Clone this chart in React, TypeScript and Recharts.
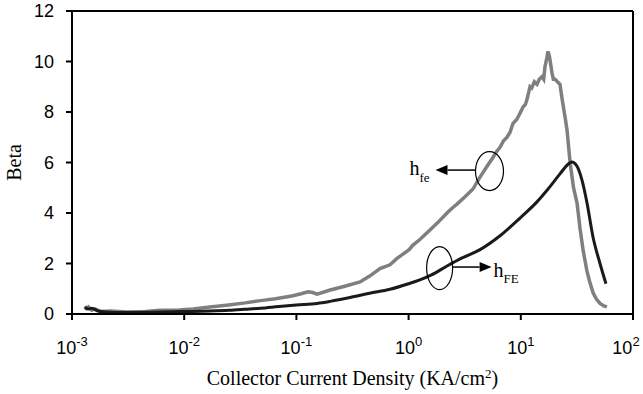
import {
  Label,
  Line,
  LineChart,
  ReferenceDot,
  ReferenceLine,
  XAxis,
  YAxis,
} from "recharts";

const SANS = "'Liberation Sans', Arial, sans-serif";
const SERIF = "'Liberation Serif', 'Times New Roman', serif";
const GRAY = "#7f7f7f";
const DARK = "#1a1a1a";

const X_TICKS = [0.001, 0.01, 0.1, 1, 10, 100];
const Y_TICKS = [0, 2, 4, 6, 8, 10, 12];

// small-signal gain h_fe (gray, noisy)
const HFE_X = [
  0.0013, 0.00135, 0.0014, 0.0015, 0.0016, 0.0018, 0.0022, 0.0031, 0.0045,
  0.0061, 0.009, 0.012, 0.017, 0.025, 0.035, 0.048, 0.065, 0.083, 0.093, 0.11,
  0.127, 0.14, 0.153, 0.2, 0.27, 0.369, 0.45, 0.556, 0.682, 0.789, 1.01, 1.094,
  1.26, 1.55, 1.8, 2.2, 2.45, 2.7, 3.2, 3.75, 4.3, 4.6, 5.0, 5.65, 6.0, 6.53,
  7.0, 7.54, 8.02, 8.52, 9.2, 9.84, 10.47, 11.0, 11.36, 12.08, 12.5, 13.2,
  13.94, 14.6, 15.45, 16.0, 16.43, 17.0, 17.47, 18.0, 18.97, 19.5, 20.18, 21.2,
  22.35, 23.0, 23.77, 24.8, 25.8, 27.5, 29.5, 31.7, 33.7, 36, 38.9, 41, 44.0,
  47, 50.8, 55, 58.6,
];
const HFE_Y = [
  0.3, 0.22, 0.28, 0.15, 0.2, 0.1, 0.12, 0.08, 0.1, 0.15, 0.16, 0.2, 0.28,
  0.36, 0.44, 0.53, 0.6, 0.68, 0.72, 0.8, 0.88, 0.85, 0.79, 0.95, 1.1, 1.27,
  1.5, 1.8, 1.95, 2.2, 2.55, 2.73, 2.95, 3.33, 3.6, 4.0, 4.2, 4.35, 4.65, 4.95,
  5.4, 5.6, 5.85, 6.2, 6.4, 6.6, 6.85, 7.0, 7.2, 7.55, 7.7, 7.95, 8.2, 8.3,
  8.5, 9.0, 8.95, 9.2, 9.1, 9.3, 9.4, 9.3, 9.8, 10.1, 10.4, 10.2, 9.55, 9.3,
  9.3, 9.2, 9.1, 8.7, 8.3, 7.8, 7.3, 6.0, 5.0, 4.4, 3.4, 2.5, 1.7, 1.3, 0.85,
  0.6, 0.42, 0.32, 0.28,
];

// DC gain h_FE (black, smooth)
const HFE_DC_X = [
  0.0013, 0.0014, 0.0015, 0.0017, 0.002, 0.003, 0.005, 0.008, 0.012, 0.017,
  0.025, 0.035, 0.048, 0.07, 0.1, 0.153, 0.2, 0.3, 0.45, 0.682, 1.0, 1.26, 1.6,
  2.2, 3.0, 4.33, 6.53, 9.84, 14, 17.5, 22.35, 26.4, 28.5, 31.7, 35.1, 38.9,
  44.0, 50.8, 57.4,
];
const HFE_DC_Y = [
  0.25, 0.2, 0.23, 0.12, 0.08, 0.06, 0.07, 0.09, 0.1, 0.12, 0.15, 0.19, 0.23,
  0.3, 0.36, 0.42, 0.5, 0.65, 0.82, 0.98, 1.2, 1.35, 1.55, 1.9, 2.22, 2.55,
  3.1, 3.8, 4.45, 4.95, 5.55, 5.93, 6.02, 5.85, 5.3, 4.4, 3.05, 2.0, 1.2,
];

// where the ellipse call-outs sit, in data units
const FE_MARK = { x: 5.26, y: 5.66 };
const FE_DC_MARK = { x: 1.89, y: 1.82 };

const hfe = HFE_X.map((x, i) => ({ x, y: HFE_Y[i] }));
const hfeDc = HFE_DC_X.map((x, i) => ({ x, y: HFE_DC_Y[i] }));

function DecadeTick({ x, y, payload }: any) {
  const exp = Math.round(Math.log10(payload.value));
  // keep the last label inside the picture, like the original does
  const tx = Math.min(x, 626);
  return (
    <text
      x={tx}
      y={y + 34}
      textAnchor="middle"
      fontFamily={SANS}
      fontSize={18}
      fill="#000"
    >
      10
      <tspan dy={-8} fontSize={13}>
        {exp}
      </tspan>
    </text>
  );
}

function XTitle({ viewBox }: any) {
  const cx = viewBox.x + viewBox.width / 2;
  return (
    <text
      x={cx}
      y={385}
      textAnchor="middle"
      fontFamily={SERIF}
      fontSize={20}
      fill="#000"
    >
      Collector Current Density (KA/cm
      <tspan dy={-7} fontSize={13}>
        2
      </tspan>
      <tspan dy={7}>)</tspan>
    </text>
  );
}

function YTitle({ viewBox }: any) {
  const cy = viewBox.y + viewBox.height / 2;
  return (
    <text
      x={21}
      y={cy}
      transform={`rotate(-90 21 ${cy})`}
      textAnchor="middle"
      fontFamily={SERIF}
      fontSize={20}
      fill="#000"
    >
      Beta
    </text>
  );
}

function FeCallout({ cx, cy }: any) {
  return (
    <g>
      <ellipse cx={cx} cy={cy} rx={14} ry={19.5} fill="none" stroke="#000" strokeWidth={1.2} />
      <line x1={cx - 14} y1={cy - 1} x2={cx - 42} y2={cy - 1} stroke="#000" strokeWidth={1.5} />
      <polygon
        points={`${cx - 54},${cy - 1} ${cx - 42},${cy - 6} ${cx - 42},${cy + 4}`}
        fill="#000"
      />
      <text x={cx - 80} y={cy + 4} fontFamily={SERIF} fontSize={20} fill="#000">
        h
        <tspan dy={7} fontSize={13}>
          fe
        </tspan>
      </text>
    </g>
  );
}

function FeDcCallout({ cx, cy }: any) {
  return (
    <g>
      <ellipse cx={cx} cy={cy} rx={13} ry={21.5} fill="none" stroke="#000" strokeWidth={1.2} />
      <line x1={cx + 13} y1={cy - 1} x2={cx + 40} y2={cy - 1} stroke="#000" strokeWidth={1.5} />
      <polygon
        points={`${cx + 52},${cy - 1} ${cx + 40},${cy - 6} ${cx + 40},${cy + 4}`}
        fill="#000"
      />
      <text x={cx + 54} y={cy + 9} fontFamily={SERIF} fontSize={20} fill="#000">
        h
        <tspan dy={6} fontSize={13}>
          FE
        </tspan>
      </text>
    </g>
  );
}

export default function App() {
  return (
    <div style={{ position: "absolute", left: 0, top: 0, background: "#fff" }}>
      <LineChart
        width={643}
        height={394}
        margin={{ top: 11, right: 10, left: 0, bottom: 0 }}
      >
        <XAxis
          dataKey="x"
          type="number"
          scale="log"
          domain={[0.001, 100]}
          ticks={X_TICKS}
          allowDataOverflow
          height={80}
          tickSize={6}
          tickMargin={0}
          tick={<DecadeTick />}
          axisLine={{ stroke: "#000", strokeWidth: 2 }}
          tickLine={{ stroke: "#000", strokeWidth: 2 }}
        >
          <Label content={<XTitle />} />
        </XAxis>
        <YAxis
          type="number"
          domain={[0, 12]}
          ticks={Y_TICKS}
          width={72}
          tickSize={6}
          tickMargin={12}
          tick={{ fontSize: 18, fill: "#000", fontFamily: SANS }}
          axisLine={{ stroke: "#000", strokeWidth: 2 }}
          tickLine={{ stroke: "#000", strokeWidth: 2 }}
        >
          <Label content={<YTitle />} />
        </YAxis>
        <ReferenceLine y={12} stroke="#000" strokeWidth={2} />
        <ReferenceLine x={100} stroke="#000" strokeWidth={2} />
        <Line
          data={hfe}
          dataKey="y"
          type="linear"
          stroke={GRAY}
          strokeWidth={3.5}
          dot={false}
          isAnimationActive={false}
        />
        <Line
          data={hfeDc}
          dataKey="y"
          type="monotone"
          stroke={DARK}
          strokeWidth={3}
          dot={false}
          isAnimationActive={false}
        />
        <ReferenceDot x={FE_MARK.x} y={FE_MARK.y} r={1} shape={<FeCallout />} />
        <ReferenceDot x={FE_DC_MARK.x} y={FE_DC_MARK.y} r={1} shape={<FeDcCallout />} />
      </LineChart>
    </div>
  );
}
